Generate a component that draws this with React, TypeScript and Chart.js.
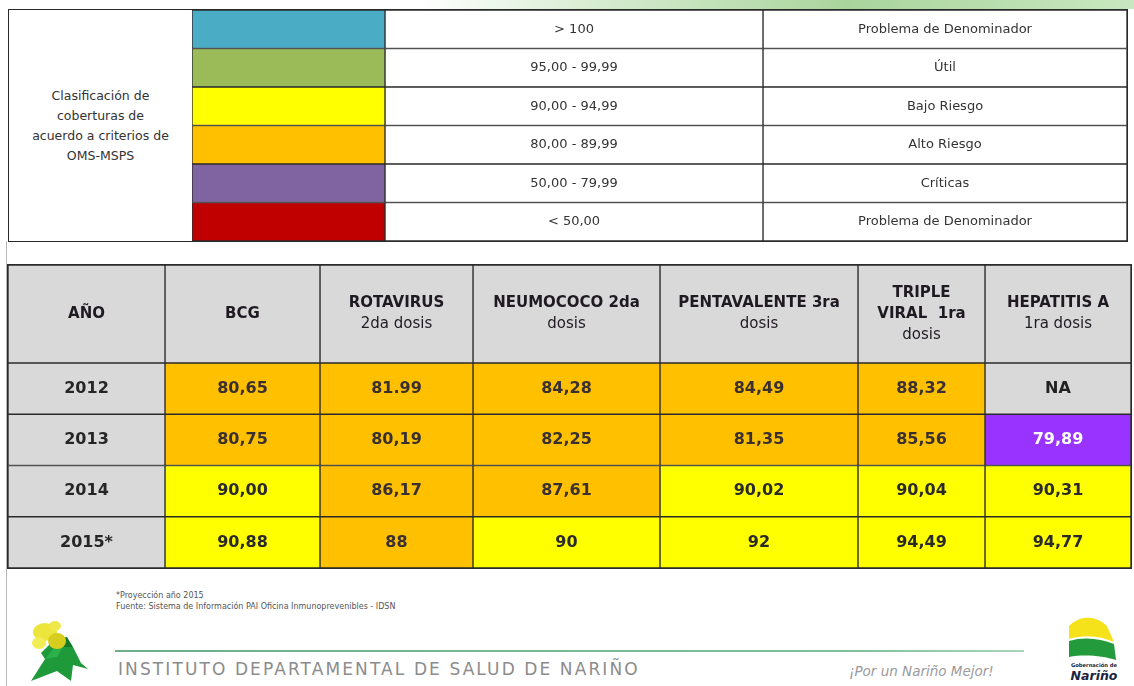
import React, { useEffect, useRef } from "react";
import { Chart, registerables } from "chart.js";

Chart.register(...registerables);

// ---------------- Data ----------------
const LEGEND_TITLE = ["Clasificación de", "coberturas de", "acuerdo a criterios de", "OMS-MSPS"];
const LEGEND_RANGES = ["> 100", "95,00 - 99,99", "90,00 - 94,99", "80,00 - 89,99", "50,00 - 79,99", "< 50,00"];
const LEGEND_MEANINGS = ["Problema de Denominador", "Útil", "Bajo Riesgo", "Alto Riesgo", "Críticas", "Problema de Denominador"];
// lower bounds of each class (same order as the legend rows)
const CLASS_LOWER = [100.0001, 95, 90, 80, 50, -Infinity];

const YEARS = ["2012", "2013", "2014", "2015*"];
const COLUMN_HEADERS = [
  ["AÑO"],
  ["BCG"],
  ["ROTAVIRUS", "2da dosis"],
  ["NEUMOCOCO 2da", "dosis"],
  ["PENTAVALENTE 3ra", "dosis"],
  ["TRIPLE", "VIRAL  1ra", "dosis"],
  ["HEPATITIS A", "1ra dosis"],
];
const BCG = ["80,65", "80,75", "90,00", "90,88"];
const ROTAVIRUS = ["81.99", "80,19", "86,17", "88"];
const NEUMOCOCO = ["84,28", "82,25", "87,61", "90"];
const PENTAVALENTE = ["84,49", "81,35", "90,02", "92"];
const TRIPLE_VIRAL = ["88,32", "85,56", "90,04", "94,49"];
const HEPATITIS_A = ["NA", "79,89", "90,31", "94,77"];
const SERIES = [BCG, ROTAVIRUS, NEUMOCOCO, PENTAVALENTE, TRIPLE_VIRAL, HEPATITIS_A];

// ---------------- Styles / layout ----------------
const LEGEND_COLORS = ["#4bacc6", "#9bbb59", "#ffff00", "#ffc000", "#8064a2", "#c00000"];
const CELL_COLORS = ["#4bacc6", "#92d050", "#ffff00", "#ffc000", "#9933ff", "#c00000"];
const CELL_TEXT = ["#222222", "#222222", "#2a2a2a", "#3a3030", "#ffffff", "#ffffff"];
const GRAY = "#d9d9d9";
const LINE = "#2a2a2a";
const FONT = '"DejaVu Sans", Verdana, sans-serif';

const TOP_X = [192, 385, 763, 1127];
const TOP_Y = 10;
const TOP_H = 231;
const LOW_X = [8, 165, 320, 473, 660, 858, 985, 1131];
const HEAD_Y = 265;
const HEAD_H = 98;
const BODY_Y = 363;
const BODY_H = 205;

function classOf(v: string): number {
  const n = parseFloat(v.replace(",", "."));
  if (isNaN(n)) return -1;
  return CLASS_LOWER.findIndex((lo) => n >= lo);
}

const cellTextPlugin = {
  id: "cellText",
  afterDatasetsDraw(chart: any) {
    const ctx = chart.ctx;
    chart.data.datasets.forEach((ds: any, di: number) => {
      const meta = chart.getDatasetMeta(di);
      meta.data.forEach((el: any, i: number) => {
        const lines: string[] = (ds.cellText && ds.cellText[i]) || [];
        if (!lines.length) return;
        const { x, y, base } = el.getProps(["x", "y", "base"], true);
        const cx = (x + base) / 2;
        const lh = ds.lineHeight || 20;
        ctx.save();
        ctx.fillStyle = ds.cellTextColor[i];
        ctx.textAlign = "center";
        ctx.textBaseline = "middle";
        lines.forEach((ln, k) => {
          const bold = ds.boldRule(ln, k);
          ctx.font = `${bold ? "bold " : ""}${ds.fontSize}px ${FONT}`;
          ctx.fillText(ln, cx, y + (k - (lines.length - 1) / 2) * lh);
        });
        ctx.restore();
      });
    });
  },
};

type Col = {
  x0: number;
  x1: number;
  fills: string[];
  texts: string[][];
  textColors: string[];
  fontSize: number;
  boldRule: (ln: string, k: number) => boolean;
};

function TableChart(props: { left: number; top: number; width: number; height: number; rows: string[]; columns: Col[]; lineHeight: number }) {
  const ref = useRef<HTMLCanvasElement>(null);
  const { left, top, width, height, rows, columns, lineHeight } = props;
  useEffect(() => {
    const chart = new Chart(ref.current as HTMLCanvasElement, {
      type: "bar",
      data: {
        labels: rows,
        datasets: columns.map((col) => ({
          data: rows.map(() => [col.x0, col.x1]),
          backgroundColor: col.fills,
          borderColor: LINE,
          borderWidth: 1,
          borderSkipped: false,
          barPercentage: 1,
          categoryPercentage: 1,
          grouped: false,
          cellText: col.texts,
          cellTextColor: col.textColors,
          fontSize: col.fontSize,
          boldRule: col.boldRule,
          lineHeight,
        })) as any,
      },
      options: {
        indexAxis: "y",
        responsive: true,
        maintainAspectRatio: false,
        animation: false,
        events: [],
        layout: { padding: 0 },
        plugins: { legend: { display: false }, tooltip: { enabled: false } },
        scales: {
          x: { type: "linear", min: columns[0].x0, max: columns[columns.length - 1].x1, display: false },
          y: { type: "category", display: false },
        },
      },
      plugins: [cellTextPlugin],
    });
    return () => chart.destroy();
  }, []);
  return (
    <div style={{ position: "absolute", left, top, width, height }}>
      <canvas ref={ref} />
    </div>
  );
}

const isBoldLine = (ln: string) => /^[A-ZÑÁÉÍÓÚ]{2,}/.test(ln);

function LeftLogo() {
  return (
    <svg style={{ position: "absolute", left: 27, top: 617 }} width={62} height={66} viewBox="0 0 62 66">
      <polygon points="4,64 18,42 14,36 28,22 36,30 46,30 54,46 61,52 46,48 44,64 30,54" fill="#1f9a3a" />
      <polygon points="28,22 36,30 46,30 40,20" fill="#147a2b" />
      <polygon points="18,42 28,30 36,30 30,40" fill="#2bb04a" />
      <ellipse cx="18" cy="15" rx="12" ry="9" fill="#ebe53c" />
      <ellipse cx="30" cy="24" rx="9" ry="8" fill="#d6cd1e" />
      <ellipse cx="12" cy="26" rx="7" ry="6" fill="#f3ed55" />
      <ellipse cx="28" cy="9" rx="6" ry="5" fill="#f0e84a" />
    </svg>
  );
}

function RightLogo() {
  return (
    <svg style={{ position: "absolute", left: 1061, top: 612 }} width={66} height={74} viewBox="0 0 66 74">
      <path d="M8,14 C20,2 36,4 46,14 L53,30 C40,24 24,22 8,27 Z" fill="#f5e21a" />
      <path d="M8,29 C24,24 40,27 53,32 L55,48 C42,44 24,42 8,45 Z" fill="#239b3c" />
      <text x="33" y="55" textAnchor="middle" fontSize="5.2" fontWeight="bold" fill="#223" fontFamily="DejaVu Sans">Gobernación de</text>
      <text x="33" y="68" textAnchor="middle" fontSize="12.5" fontWeight="bold" fontStyle="italic" fill="#1b2440" fontFamily="DejaVu Sans">Nariño</text>
    </svg>
  );
}

export default function App() {
  const legendCols: Col[] = [
    {
      x0: TOP_X[0], x1: TOP_X[1], fills: LEGEND_COLORS, texts: LEGEND_RANGES.map(() => []),
      textColors: LEGEND_RANGES.map(() => "#333"), fontSize: 13, boldRule: () => false,
    },
    {
      x0: TOP_X[1], x1: TOP_X[2], fills: LEGEND_RANGES.map(() => "#ffffff"), texts: LEGEND_RANGES.map((s) => [s]),
      textColors: LEGEND_RANGES.map(() => "#333"), fontSize: 13, boldRule: () => false,
    },
    {
      x0: TOP_X[2], x1: TOP_X[3], fills: LEGEND_MEANINGS.map(() => "#ffffff"), texts: LEGEND_MEANINGS.map((s) => [s]),
      textColors: LEGEND_MEANINGS.map(() => "#333"), fontSize: 13, boldRule: () => false,
    },
  ];

  const headerCols: Col[] = COLUMN_HEADERS.map((h, i) => ({
    x0: LOW_X[i], x1: LOW_X[i + 1], fills: [GRAY], texts: [h], textColors: ["#1f1a22"], fontSize: 15,
    boldRule: (ln: string) => isBoldLine(ln),
  }));

  const bodyCols: Col[] = [
    {
      x0: LOW_X[0], x1: LOW_X[1], fills: YEARS.map(() => GRAY), texts: YEARS.map((y) => [y]),
      textColors: YEARS.map(() => "#262626"), fontSize: 16, boldRule: () => true,
    },
    ...SERIES.map((vals, s) => ({
      x0: LOW_X[s + 1], x1: LOW_X[s + 2],
      fills: vals.map((v) => (classOf(v) < 0 ? GRAY : CELL_COLORS[classOf(v)])),
      texts: vals.map((v) => [v]),
      textColors: vals.map((v) => (classOf(v) < 0 ? "#222" : CELL_TEXT[classOf(v)])),
      fontSize: 16,
      boldRule: () => true,
    })),
  ];

  return (
    <div style={{ position: "absolute", left: 0, top: 0, width: 1134, height: 686, background: "#fff", overflow: "hidden", fontFamily: FONT }}>
      {/* top decorative strip */}
      <div style={{ position: "absolute", left: 420, top: 0, width: 714, height: 9, background: "linear-gradient(to right, rgba(255,255,255,0), #d6ecd0 25%, #a9d59c 60%, #c9e7c0)" }} />
      {/* left page rule */}
      <div style={{ position: "absolute", left: 6, top: 241, width: 1, height: 445, background: "#b8b8b8" }} />

      {/* legend table */}
      <div style={{ position: "absolute", left: 8, top: 9, width: 1120, height: 233, border: `1px solid ${LINE}`, boxSizing: "border-box" }} />
      <div style={{ position: "absolute", left: 9, top: TOP_Y, width: TOP_X[0] - 9, height: TOP_H, display: "flex", alignItems: "center", justifyContent: "center", textAlign: "center", fontSize: 12.5, lineHeight: "20px", color: "#333" }}>
        <div>
          {LEGEND_TITLE.map((t, i) => (
            <div key={i}>{t}</div>
          ))}
        </div>
      </div>
      <TableChart left={TOP_X[0]} top={TOP_Y} width={TOP_X[3] - TOP_X[0]} height={TOP_H} rows={LEGEND_RANGES} columns={legendCols} lineHeight={16} />

      {/* coverage table */}
      <div style={{ position: "absolute", left: 7, top: 264, width: 1125, height: 305, border: `1px solid ${LINE}`, boxSizing: "border-box" }} />
      <TableChart left={LOW_X[0]} top={HEAD_Y} width={LOW_X[7] - LOW_X[0]} height={HEAD_H} rows={["header"]} columns={headerCols} lineHeight={21} />
      <TableChart left={LOW_X[0]} top={BODY_Y} width={LOW_X[7] - LOW_X[0]} height={BODY_H} rows={YEARS} columns={bodyCols} lineHeight={20} />

      {/* footer */}
      <div style={{ position: "absolute", left: 116, top: 590, fontSize: 8, lineHeight: "11px", color: "#555" }}>
        <div>*Proyección año 2015</div>
        <div>Fuente: Sistema de Información PAI Oficina Inmunoprevenibles - IDSN</div>
      </div>
      <div style={{ position: "absolute", left: 115, top: 650, width: 909, height: 2, background: "linear-gradient(to right, #6fae8a, #7fbf99 80%, #a8d6bb)" }} />
      <div style={{ position: "absolute", left: 118, top: 659, fontSize: 17, letterSpacing: "2.1px", color: "#8c8c8c", whiteSpace: "nowrap" }}>
        INSTITUTO DEPARTAMENTAL DE SALUD DE NARIÑO
      </div>
      <div style={{ position: "absolute", left: 849, top: 663, fontSize: 13.5, fontStyle: "italic", color: "#9a9a9a", whiteSpace: "nowrap" }}>
        ¡Por un Nariño Mejor!
      </div>
      <LeftLogo />
      <RightLogo />
    </div>
  );
}
